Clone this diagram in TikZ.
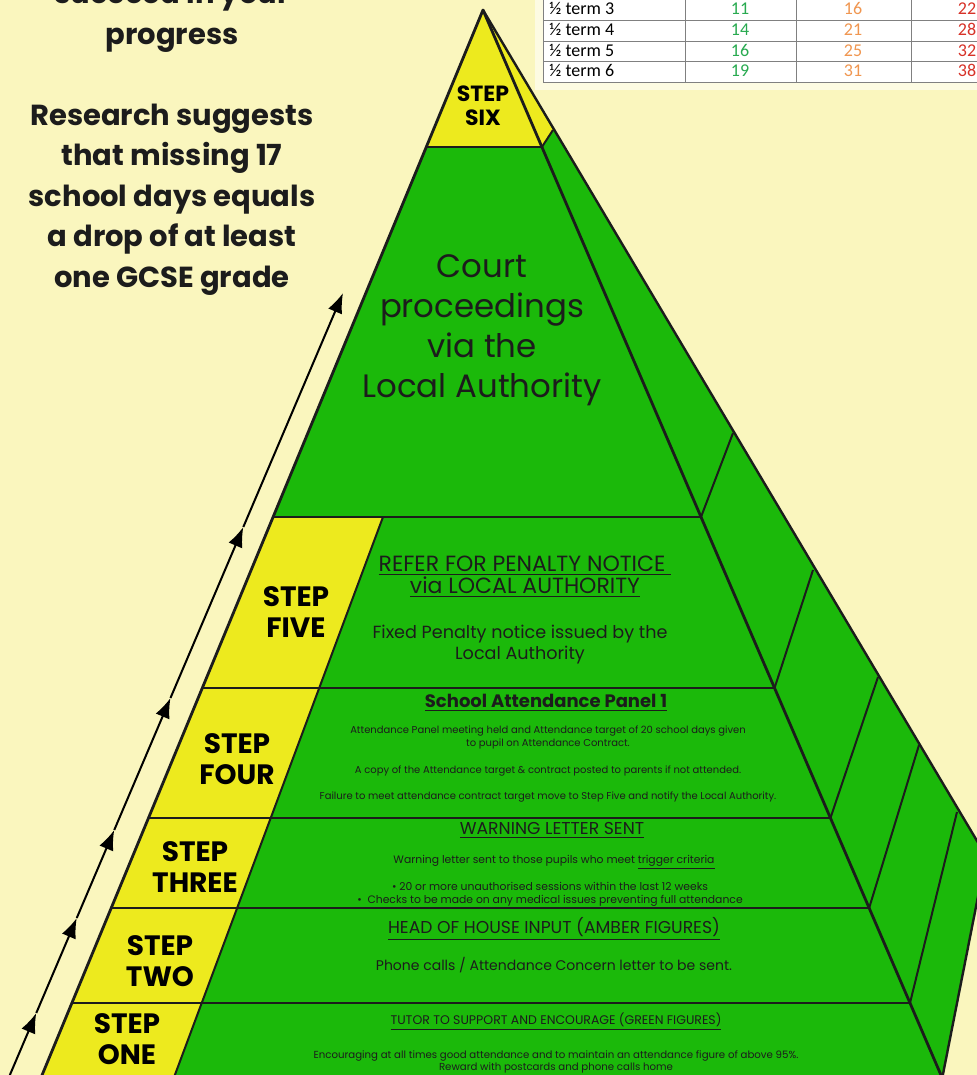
\documentclass[tikz,border=0pt]{standalone}
\usepackage{fontspec}
\setmainfont{Poppins}
\newfontfamily\calib{Carlito}
\usetikzlibrary{arrows.meta,calc}

\definecolor{paper}{RGB}{250,246,190}
\definecolor{sunny}{RGB}{237,234,30}
\definecolor{leaf}{RGB}{27,185,10}
\definecolor{ink}{RGB}{28,28,28}
\definecolor{goodgreen}{RGB}{40,170,80}
\definecolor{amber}{RGB}{240,150,80}
\definecolor{alarm}{RGB}{215,50,40}

\begin{document}
\begin{tikzpicture}[x=0.5pt,y=-0.5pt,
    edge/.style={draw=ink,line width=1pt,line join=round},
    steptag/.style={font=\fontsize{14}{15.5}\selectfont\bfseries,align=center,inner sep=0pt,anchor=base},
    txt/.style={align=center,inner sep=0pt,anchor=base,text=ink},
    up/.style={line width=1pt,-{Latex[length=10pt,width=7.5pt]}},
    cell/.style={font=\calib\fontsize{9}{10}\selectfont,inner sep=0pt,anchor=base}]
  \path[use as bounding box] (0,0) rectangle (977,1075);
  \clip (0,0) rectangle (977,1075);
  \fill[paper] (0,0) rectangle (977,1075);

  % pyramid levels: left edge, right edge, yellow column edge
  \coordinate (apex) at (483,10);
  \foreach \nm/\yy in {six/147,court/517,five/688,four/818,three/908,two/1003,one/1078}{
    \coordinate (L-\nm) at ({483-0.414*(\yy-10)},\yy);
    \coordinate (R-\nm) at ({483+0.43*(\yy-10)},\yy);
    \coordinate (Y-\nm) at ({383-0.373*(\yy-517)},\yy);
  }
  \foreach \nm/\xx/\yy in {six/553/130,court/733/433,five/813/570,four/878/677,
      three/919/745,two/957/812,one/986/856}
    \coordinate (O-\nm) at (\xx,\yy);

  % side face
  \fill[leaf] (apex) -- (O-one) -- (R-one) -- cycle;
  \fill[sunny] (apex) -- (O-six) -- (R-six) -- cycle;
  \foreach \nm in {six,court,five,four,three,two}
    \draw[edge] (R-\nm) -- (O-\nm);
  \draw[edge,line width=1.2pt] (apex) -- (O-one) -- (R-one);

  % front face
  \fill[leaf] (apex) -- (L-one) -- (R-one) -- cycle;
  \fill[sunny] (apex) -- (L-six) -- (R-six) -- cycle;
  \fill[sunny] (L-court) -- (Y-court) -- (Y-one) -- (L-one) -- cycle;
  \foreach \nm in {six,court,five,four,three,two}
    \draw[edge] (L-\nm) -- (R-\nm);
  \draw[edge] (Y-court) -- (Y-one);
  \draw[edge,line width=1.4pt] (L-one) -- (apex) -- (R-one);

  % arrows up the left side
  \foreach \nm/\yy in {a0/1080,a1/1013,a2/918,a3/830,a4/698,a5/527,a6/293}
    \coordinate (\nm) at ({343-0.426*(\yy-293)},\yy);
  \foreach \from/\to in {a0/a1,a1/a2,a2/a3,a3/a4,a4/a5,a5/a6}
    \draw[up] (\from) -- (\to);

  % table
  \fill[white!55!paper] (535,-5) rectangle (977,90);
  \fill[white] (543,-2) rectangle (977,82.5);
  \foreach \yy in {20.5,41.5,62,82.5}
    \draw[gray,line width=0.5pt] (543,\yy) -- (977,\yy);
  \foreach \xx in {543,685,796,911}
    \draw[gray,line width=0.5pt] (\xx,-2) -- (\xx,82.5);
  \foreach \r/\a/\b/\c/\yy in {3/11/16/22/15,4/14/21/28/36,5/16/25/32/56.5,6/19/31/38/77}{
    \node[cell,anchor=base west] (term\r) at (549,\yy) {½ term \r};
    \node[cell,text=goodgreen] (green\r) at (740,\yy) {\a};
    \node[cell,text=amber] (amber\r) at (853,\yy) {\b};
    \node[cell,text=alarm] (red\r) at (967,\yy) {\c};
  }

  % left hand message
  \node[txt,font=\fontsize{14.5}{20.5}\selectfont\bfseries] (motto) at (172,45)
    {succeed in your\\progress};
  \node[txt,font=\fontsize{14.5}{20.2}\selectfont\bfseries] (research) at (172,287)
    {Research suggests\\that missing 17\\school days equals\\a drop of at least\\one GCSE grade};

  % steps
  \node[steptag,font=\fontsize{11}{12}\selectfont\bfseries] (six) at (483,126) {STEP\\SIX};
  \node[txt,font=\fontsize{16.2}{20}\selectfont] (court) at (482,397)
    {Court\\proceedings\\via the\\Local Authority};

  \node[steptag] (five) at (296,637.5) {STEP\\FIVE};
  \node[txt,font=\fontsize{11}{11}\selectfont] (refer) at (525,593)
    {\underline{REFER FOR PENALTY NOTICE\ }\\\underline{via LOCAL AUTHORITY}};
  \node[txt,font=\fontsize{8.8}{10.5}\selectfont] (fixed) at (520,659)
    {Fixed Penalty notice issued by the\\Local Authority};

  \node[steptag] (four) at (237,784) {STEP\\FOUR};
  \node[txt,font=\fontsize{9}{12}\selectfont\bfseries] (panel) at (546,707)
    {\underline{School Attendance Panel 1}};
  \node[txt,font=\fontsize{5}{6.5}\selectfont] (panelA) at (548,746)
    {Attendance Panel meeting held and Attendance target of 20 school days given\\
     to pupil on Attendance Contract.};
  \node[txt,font=\fontsize{5}{6.5}\selectfont] (panelB) at (548,773)
    {A copy of the Attendance target \& contract posted to parents if not attended.};
  \node[txt,font=\fontsize{5}{6.5}\selectfont] (panelC) at (548,799)
    {Failure to meet attendance contract target move to Step Five and notify the Local Authority.};

  \node[steptag] (three) at (195,892) {STEP\\THREE};
  \node[txt,font=\fontsize{8.6}{9}\selectfont] (warn) at (552,834)
    {\underline{WARNING LETTER SENT}};
  \node[txt,font=\fontsize{5.4}{6.5}\selectfont] (warnA) at (554,863)
    {Warning letter sent to those pupils who meet \underline{trigger criteria}};
  \node[txt,font=\fontsize{5.4}{6.5}\selectfont] (warnB) at (550,903)
    {\textbullet\ 20 or more unauthorised sessions within the last 12 weeks\\
     \textbullet\ \ Checks to be made on any medical issues preventing full attendance};

  \node[steptag] (two) at (160,986) {STEP\\TWO};
  \node[txt,font=\fontsize{8.6}{9}\selectfont] (house) at (554,933)
    {\underline{HEAD OF HOUSE INPUT (AMBER FIGURES)}};
  \node[txt,font=\fontsize{7}{9}\selectfont] (phone) at (554,970)
    {Phone calls / Attendance Concern letter to be sent.};

  \node[steptag] (one) at (127,1064.7) {STEP\\ONE};
  \node[txt,font=\fontsize{6.25}{7}\selectfont] (tutor) at (556,1024)
    {\underline{TUTOR TO SUPPORT AND ENCOURAGE (GREEN FIGURES)}};
  \node[txt,font=\fontsize{5.1}{6}\selectfont] (encourage) at (556,1070)
    {Encouraging at all times good attendance and to maintain an attendance figure of above 95\%.\\
     Reward with postcards and phone calls home};
\end{tikzpicture}
\end{document}
